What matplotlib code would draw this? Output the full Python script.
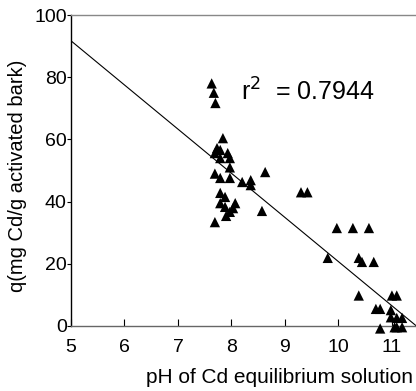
import matplotlib
matplotlib.use("Agg")
import matplotlib.pyplot as plt
import numpy as np

plt.rcParams['font.family'] = ['Liberation Sans', 'DejaVu Sans']

# Equilibrium pH and Cd uptake (mg Cd / g activated bark)
ph = [7.63, 7.67, 7.70,
      7.84, 7.73, 7.79, 7.69, 7.93, 7.79, 7.97, 7.97, 7.69, 7.79, 7.97,
      8.20, 8.36, 8.36, 8.63, 7.79, 7.88, 7.79, 7.88, 8.07, 8.03, 7.97,
      7.90, 8.57, 7.69,
      9.30, 9.42,
      9.97, 10.27, 10.57,
      9.80, 10.38, 10.44, 10.66,
      10.38, 11.00, 11.09,
      10.70, 10.78, 10.98,
      10.98, 11.09, 11.19,
      10.78, 11.05, 11.09, 11.19]
q = [78.0, 75.0, 71.7,
     60.4, 57.2, 56.6, 55.6, 55.6, 54.0, 54.0, 51.0, 49.0, 47.6, 47.6,
     46.3, 46.9, 45.3, 49.5, 42.8, 41.5, 39.5, 38.3, 39.5, 37.9, 36.7,
     35.4, 37.0, 33.4,
     43.0, 43.0,
     31.5, 31.5, 31.5,
     21.9, 21.9, 20.6, 20.6,
     9.8, 9.8, 9.8,
     5.5, 5.5, 5.1,
     2.8, 2.6, 2.6,
     -0.8, -0.4, -0.4, -0.4]

# Linear fit shown on the plot
fit_intercept = 162.7
fit_slope = -14.2
r_squared = 0.7944

x_ticks = [5, 6, 7, 8, 9, 10, 11]
y_ticks = [0, 20, 40, 60, 80, 100]

fig = plt.figure(figsize=(4.16, 3.91), dpi=100)
ax = fig.add_axes([71 / 416, 65 / 391, 345 / 416, 311 / 391])

xs = np.array([5.0, 11.45])
ax.plot(xs, fit_intercept + fit_slope * xs, color='black', lw=0.8, clip_on=True)
ax.scatter(ph, q, marker='^', s=55, color='black', edgecolors='none',
           zorder=3, clip_on=False)

ax.text(8.18, 72.5, r'r$^{2}$  = ' + f'{r_squared:.4f}', fontsize=18, color='black')

ax.set_xlim(5, 11.45)
ax.set_ylim(0, 100)
ax.set_xticks(x_ticks)
ax.set_yticks(y_ticks)
ax.tick_params(axis='x', direction='in', length=5, width=0.8, labelsize=14, pad=9)
ax.tick_params(axis='y', direction='out', length=3, width=0.8, labelsize=14, pad=0)

ax.spines['right'].set_visible(False)
ax.spines['top'].set_color('#888888')
ax.spines['bottom'].set_color('#666666')
ax.spines['left'].set_color('black')
for s in ax.spines.values():
    s.set_linewidth(1.0)

ax.set_xlabel('pH of Cd equilibrium solution', fontsize=15)
ax.set_ylabel('q(mg Cd/g activated bark)', fontsize=14.5)
ax.xaxis.set_label_coords(0.603, -0.135)
ax.yaxis.set_label_coords(-0.128, 0.482)

fig.savefig('out.png', dpi=100)
